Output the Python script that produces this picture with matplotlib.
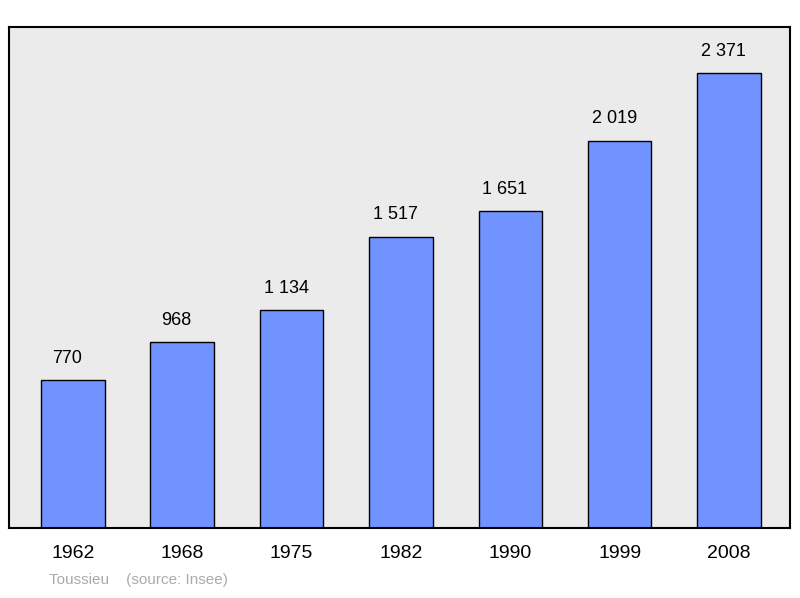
import matplotlib
matplotlib.use("Agg")
from matplotlib import pyplot as plt

years = ["1962", "1968", "1975", "1982", "1990", "1999", "2008"]
population = [770, 968, 1134, 1517, 1651, 2019, 2371]
value_labels = ["770", "968", "1 134", "1 517", "1 651", "2 019", "2 371"]

plt.rcParams["font.family"] = ["Liberation Sans", "DejaVu Sans"]
fig = plt.figure(figsize=(8, 5.98), dpi=100)
ax = fig.add_axes([0.011, 0.117, 0.977, 0.838])
ax.set_facecolor("#ebebeb")

x = list(range(len(years)))
ax.bar(x, population, width=0.58, color="#7093ff", edgecolor="black", linewidth=1)
for xi, v, lab in zip(x, population, value_labels):
    ax.text(xi - 0.05, v + 70, lab, ha="center", va="bottom", fontsize=13)

ax.set_xlim(-0.585, 6.56)
ax.set_ylim(0, 2611)
ax.set_yticks([])
ax.set_xticks(x)
ax.set_xticklabels(years, fontsize=14)
ax.tick_params(axis="x", length=0, pad=12)
for s in ax.spines.values():
    s.set_linewidth(1.5)

fig.text(0.061, 0.023, "Toussieu    (source: Insee)", color="#aaaaaa", fontsize=11)
fig.savefig("out.png")
